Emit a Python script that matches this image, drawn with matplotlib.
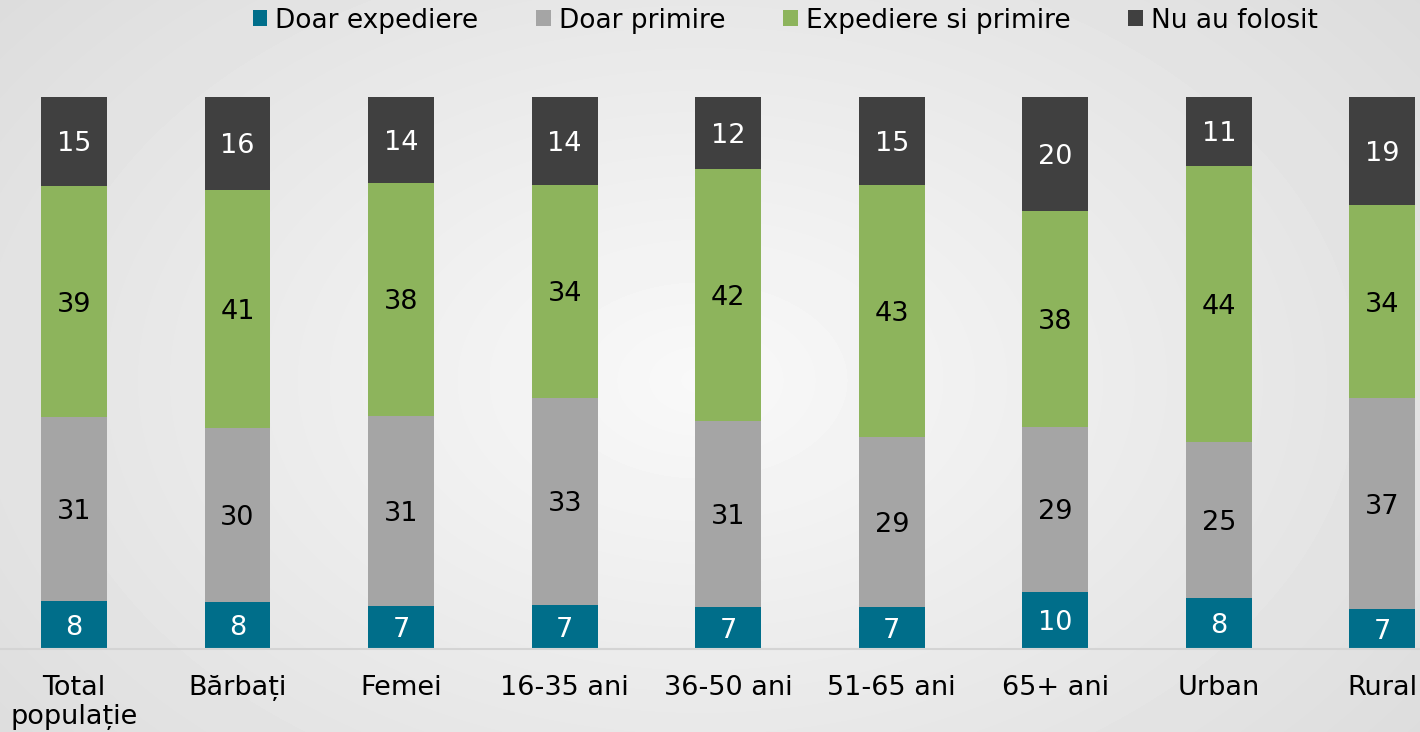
import numpy as np
import matplotlib.pyplot as plt

categories = ['Total\npopulație', 'Bărbați', 'Femei', '16-35 ani', '36-50 ani',
              '51-65 ani', '65+ ani', 'Urban', 'Rural']
doar_expediere = [8, 8, 7, 7, 7, 7, 10, 8, 7]
doar_primire = [31, 30, 31, 33, 31, 29, 29, 25, 37]
expediere_primire = [39, 41, 38, 34, 42, 43, 38, 44, 34]
nu_au_folosit = [15, 16, 14, 14, 12, 15, 20, 11, 19]

series = [
    ('Doar expediere', doar_expediere, '#006e8a', 'white'),
    ('Doar primire', doar_primire, '#a5a5a5', 'black'),
    ('Expediere si primire', expediere_primire, '#8db45c', 'black'),
    ('Nu au folosit', nu_au_folosit, '#404040', 'white'),
]

plt.rcParams['font.family'] = 'DejaVu Sans'

fig = plt.figure(figsize=(14.2, 7.32), dpi=100)

# radial gradient background
bg = fig.add_axes([0, 0, 1, 1], zorder=-10)
yy, xx = np.mgrid[0:732, 0:1420]
r = np.sqrt(((xx - 700) / 900.0) ** 2 + ((yy - 380) / 600.0) ** 2)
shade = np.clip(0.975 - 0.11 * r, 0.85, 1.0)
bg.imshow(shade, cmap='gray', vmin=0, vmax=1, aspect='auto',
          extent=[0, 1, 0, 1], origin='upper')
bg.axis('off')

ax = fig.add_axes([-7.8 / 1420, 0.114, 1472 / 1420, 0.7535])
ax.patch.set_alpha(0)

totals = np.sum([s[1] for s in series], axis=0)
x = np.arange(len(categories))
bottom = np.zeros(len(categories))
for name, vals, color, tcolor in series:
    h = np.array(vals) / totals * 100
    ax.bar(x, h, 0.403, bottom=bottom, color=color, label=name)
    for xi, b, hi, v in zip(x, bottom, h, vals):
        ax.text(xi, b + hi / 2, str(v), ha='center', va='center_baseline',
                fontsize=19.5, color=tcolor)
    bottom += h

ax.set_xlim(-0.5, len(categories) - 0.5)
ax.set_ylim(0, 100)
ax.set_xticks(x)
ax.set_xticklabels(categories, fontsize=19.5, linespacing=1.15)
ax.tick_params(axis='x', length=0, pad=19)
ax.set_yticks([])
for side in ['left', 'right', 'top']:
    ax.spines[side].set_visible(False)
ax.spines['bottom'].set_color('#d4d4d4')
ax.spines['bottom'].set_linewidth(1.5)

fig.legend(loc='upper center', bbox_to_anchor=(0.553, 1.022), ncol=4,
           frameon=False, fontsize=19, handlelength=0.55, handleheight=0.55,
           handletextpad=0.3, columnspacing=2.2)

fig.savefig('out.png', dpi=100)
